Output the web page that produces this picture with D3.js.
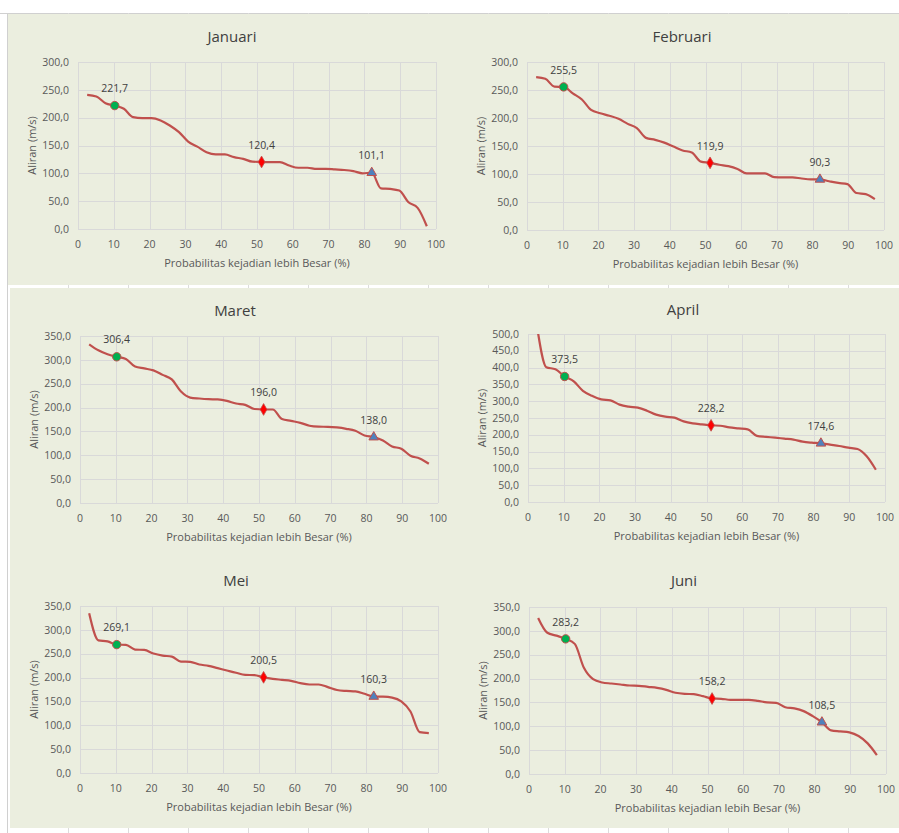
<!DOCTYPE html>
<html>
<head>
<meta charset="utf-8">
<script src="https://cdn.jsdelivr.net/npm/d3@7"></script>
<style>
  body { margin: 0; background: #ffffff; }
  svg { display: block; font-family: "Open Sans", "Noto Sans", sans-serif; }
</style>
</head>
<body>
<svg id="chart" width="899" height="833"></svg>
<script>
// probabilitas kejadian lebih besar (%), 38 data per bulan
var probs = [2.56, 5.13, 7.69, 10.26, 12.82, 15.38, 17.95, 20.51, 23.08, 25.64,
  28.21, 30.77, 33.33, 35.90, 38.46, 41.03, 43.59, 46.15, 48.72, 51.28,
  53.85, 56.41, 58.97, 61.54, 64.10, 66.67, 69.23, 71.79, 74.36, 76.92,
  79.49, 82.05, 84.62, 87.18, 89.74, 92.31, 94.87, 97.44];

var months = ["Januari", "Februari", "Maret", "April", "Mei", "Juni"];

var janFlow = [241, 238, 226, 221.7, 216, 201, 199, 199, 195, 186,
  174, 157, 148, 138, 134, 134, 129, 126, 121, 120.4,
  120, 120, 114, 110, 110, 108, 108, 107, 106, 104,
  100, 101.1, 73, 72, 69, 48, 38, 5];
var febFlow = [273, 270, 256, 255.5, 244, 233, 214.5, 208.5, 204, 198.5,
  189.5, 182, 164.5, 161, 156, 149, 142, 138.5, 122, 119.9,
  116.5, 114, 109, 101, 101, 101, 94.5, 94, 94, 92,
  90.5, 90.3, 87, 84, 82, 66, 64, 55];
var marFlow = [332.6, 320, 311.7, 306.4, 302, 286, 282, 278, 268.5, 259,
  233.6, 221, 219, 217.6, 217, 214, 208.5, 205.7, 197, 196.0,
  196, 176, 172, 168, 162, 160, 159.7, 158.3, 155.5, 151.3,
  141.6, 138.0, 131, 118.5, 113.7, 99, 93.4, 82.3];
var aprFlow = [520, 401, 395, 373.5, 359, 331, 316, 305.5, 302.6, 289.7,
  283.7, 280.8, 271.8, 260, 254, 251, 240, 234, 231, 228.2,
  227, 222, 219, 216, 197, 194, 191.5, 188.5, 185.5, 179.6,
  176.6, 174.6, 170.6, 166.7, 161.7, 157.7, 136, 96];
var meiFlow = [334.7, 278, 276, 269.1, 268.5, 258.7, 258, 250.3, 246, 244,
  233.6, 233, 227.3, 224.5, 219.7, 214.8, 210, 205.7, 205, 200.5,
  197.3, 195.3, 193.2, 188.3, 185.5, 185.5, 180, 174, 172, 171,
  166, 160.3, 160, 158, 150, 129, 85.8, 83.7];
var junFlow = [327, 296, 290, 283.2, 272.7, 222.5, 198.7, 191.8, 189.7, 187.6,
  185.5, 184.8, 182.7, 180.6, 176.4, 170.2, 168, 167.4, 163.2, 158.2,
  157.6, 155.5, 155.5, 155.5, 153.4, 150, 149.2, 140, 137.4, 131.8,
  121.3, 108.5, 91.4, 89.3, 87.2, 79.5, 64.2, 39.7];

var flows = [janFlow, febFlow, marFlow, aprFlow, meiFlow, junFlow];
var yMax = [300, 300, 350, 500, 350, 350];
var xTicks = [0, 10, 20, 30, 40, 50, 60, 70, 80, 90, 100];
// titik yang ditandai: Q10, Q50, Q80
var markIdx = [3, 19, 31];

// layout (panel box & plot area), pixel
var layout = [
  { box: [8, 14, 456, 285],  plot: [78, 62, 436, 229],  title: [232, 37] },
  { box: [456, 14, 899, 285], plot: [527, 62, 884, 230], title: [682, 37] },
  { box: [10, 288, 456, 556], plot: [80, 336, 438, 503], title: [235, 311] },
  { box: [456, 288, 899, 558], plot: [528, 334, 885, 502], title: [683, 310] },
  { box: [10, 556, 456, 828], plot: [80, 606, 438, 773], title: [236, 581] },
  { box: [456, 558, 899, 828], plot: [529, 607, 886, 774], title: [684, 581] }
];

var svg = d3.select("#chart");
var lineColor = "#C0504D";
var gridColor = "#D9D9D9";
var fmt = function(v) { return d3.format(".1f")(v).replace(".", ","); };

// spreadsheet cell lines behind the charts
var sheet = svg.append("g");
sheet.append("line").attr("x1", 0).attr("x2", 899).attr("y1", 13.5).attr("y2", 13.5)
  .attr("stroke", "#D0D0D0");
sheet.append("line").attr("x1", 7.5).attr("x2", 7.5).attr("y1", 13).attr("y2", 833)
  .attr("stroke", "#D0D0D0");
for (var c = 68; c < 899; c += 60) {
  sheet.append("line").attr("x1", c + 0.5).attr("x2", c + 0.5).attr("y1", 13).attr("y2", 833)
    .attr("stroke", "#DCDCDC");
}

months.forEach(function(name, m) {
  var L = layout[m];
  var g = svg.append("g");

  g.append("rect")
    .attr("x", L.box[0]).attr("y", L.box[1])
    .attr("width", L.box[2] - L.box[0]).attr("height", L.box[3] - L.box[1])
    .attr("fill", "#EBEEDF");

  var x = d3.scaleLinear().domain([0, 100]).range([L.plot[0], L.plot[2]]);
  var y = d3.scaleLinear().domain([0, yMax[m]]).range([L.plot[3], L.plot[1]]);
  var yTicks = d3.range(0, yMax[m] + 1, 50);

  // gridlines
  g.append("g").selectAll("line").data(yTicks).enter().append("line")
    .attr("x1", L.plot[0]).attr("x2", L.plot[2])
    .attr("y1", function(d) { return Math.round(y(d)) + 0.5; })
    .attr("y2", function(d) { return Math.round(y(d)) + 0.5; })
    .attr("stroke", gridColor);
  g.append("g").selectAll("line").data(xTicks).enter().append("line")
    .attr("x1", function(d) { return Math.round(x(d)) + 0.5; })
    .attr("x2", function(d) { return Math.round(x(d)) + 0.5; })
    .attr("y1", L.plot[1]).attr("y2", L.plot[3])
    .attr("stroke", gridColor);

  // axis labels
  g.append("g").selectAll("text").data(yTicks).enter().append("text")
    .attr("x", L.plot[0] - 9)
    .attr("y", function(d) { return y(d); })
    .attr("dy", "0.35em")
    .attr("text-anchor", "end")
    .attr("font-size", "10.5px")
    .attr("fill", "#595959")
    .text(fmt);
  g.append("g").selectAll("text").data(xTicks).enter().append("text")
    .attr("x", function(d) { return x(d); })
    .attr("y", L.plot[3] + 15)
    .attr("dy", "0.35em")
    .attr("text-anchor", "middle")
    .attr("font-size", "10.5px")
    .attr("fill", "#595959")
    .text(function(d) { return d; });

  g.append("text")
    .attr("x", (L.plot[0] + L.plot[2]) / 2)
    .attr("y", L.plot[3] + 34)
    .attr("dy", "0.35em")
    .attr("text-anchor", "middle")
    .attr("font-size", "11px")
    .attr("fill", "#595959")
    .text("Probabilitas kejadian lebih Besar (%)");

  var ymid = (L.plot[1] + L.plot[3]) / 2;
  g.append("text")
    .attr("transform", "translate(" + (L.plot[0] - 46) + "," + ymid + ") rotate(-90)")
    .attr("dy", "0.35em")
    .attr("text-anchor", "middle")
    .attr("font-size", "11px")
    .attr("fill", "#595959")
    .text("Aliran (m/s)");

  g.append("text")
    .attr("x", L.title[0]).attr("y", L.title[1])
    .attr("dy", "0.35em")
    .attr("text-anchor", "middle")
    .attr("font-size", "15px")
    .attr("fill", "#404040")
    .text(name);

  // curve
  var clipId = "clip" + m;
  g.append("clipPath").attr("id", clipId).append("rect")
    .attr("x", L.plot[0]).attr("y", L.plot[1])
    .attr("width", L.plot[2] - L.plot[0]).attr("height", L.plot[3] - L.plot[1]);

  var pts = flows[m].map(function(v, i) { return [probs[i], v]; });
  var line = d3.line()
    .x(function(d) { return x(d[0]); })
    .y(function(d) { return y(d[1]); })
    .curve(d3.curveMonotoneX);

  g.append("path")
    .datum(pts)
    .attr("clip-path", "url(#" + clipId + ")")
    .attr("d", line)
    .attr("fill", "none")
    .attr("stroke", lineColor)
    .attr("stroke-width", 2.2)
    .attr("stroke-linejoin", "round");

  // markers
  var p0 = pts[markIdx[0]], p1 = pts[markIdx[1]], p2 = pts[markIdx[2]];
  g.append("circle")
    .attr("cx", x(p0[0])).attr("cy", y(p0[1])).attr("r", 4.2)
    .attr("fill", "#00B050").attr("stroke", lineColor).attr("stroke-width", 1);
  g.append("path")
    .attr("transform", "translate(" + x(p1[0]) + "," + y(p1[1]) + ")")
    .attr("d", d3.symbol().type(d3.symbolDiamond).size(40))
    .attr("fill", "#FF0000").attr("stroke", lineColor).attr("stroke-width", 0.8);
  g.append("path")
    .attr("transform", "translate(" + x(p2[0]) + "," + y(p2[1]) + ")")
    .attr("d", d3.symbol().type(d3.symbolTriangle).size(40))
    .attr("fill", "#4F81BD").attr("stroke", lineColor).attr("stroke-width", 1);

  // data labels
  g.append("g").selectAll("text").data(markIdx).enter().append("text")
    .attr("x", function(i) { return x(pts[i][0]); })
    .attr("y", function(i) { return y(pts[i][1]) - 17; })
    .attr("dy", "0.35em")
    .attr("text-anchor", "middle")
    .attr("font-size", "10.5px")
    .attr("fill", "#404040")
    .text(function(i) { return fmt(pts[i][1]); });
});
</script>
</body>
</html>
